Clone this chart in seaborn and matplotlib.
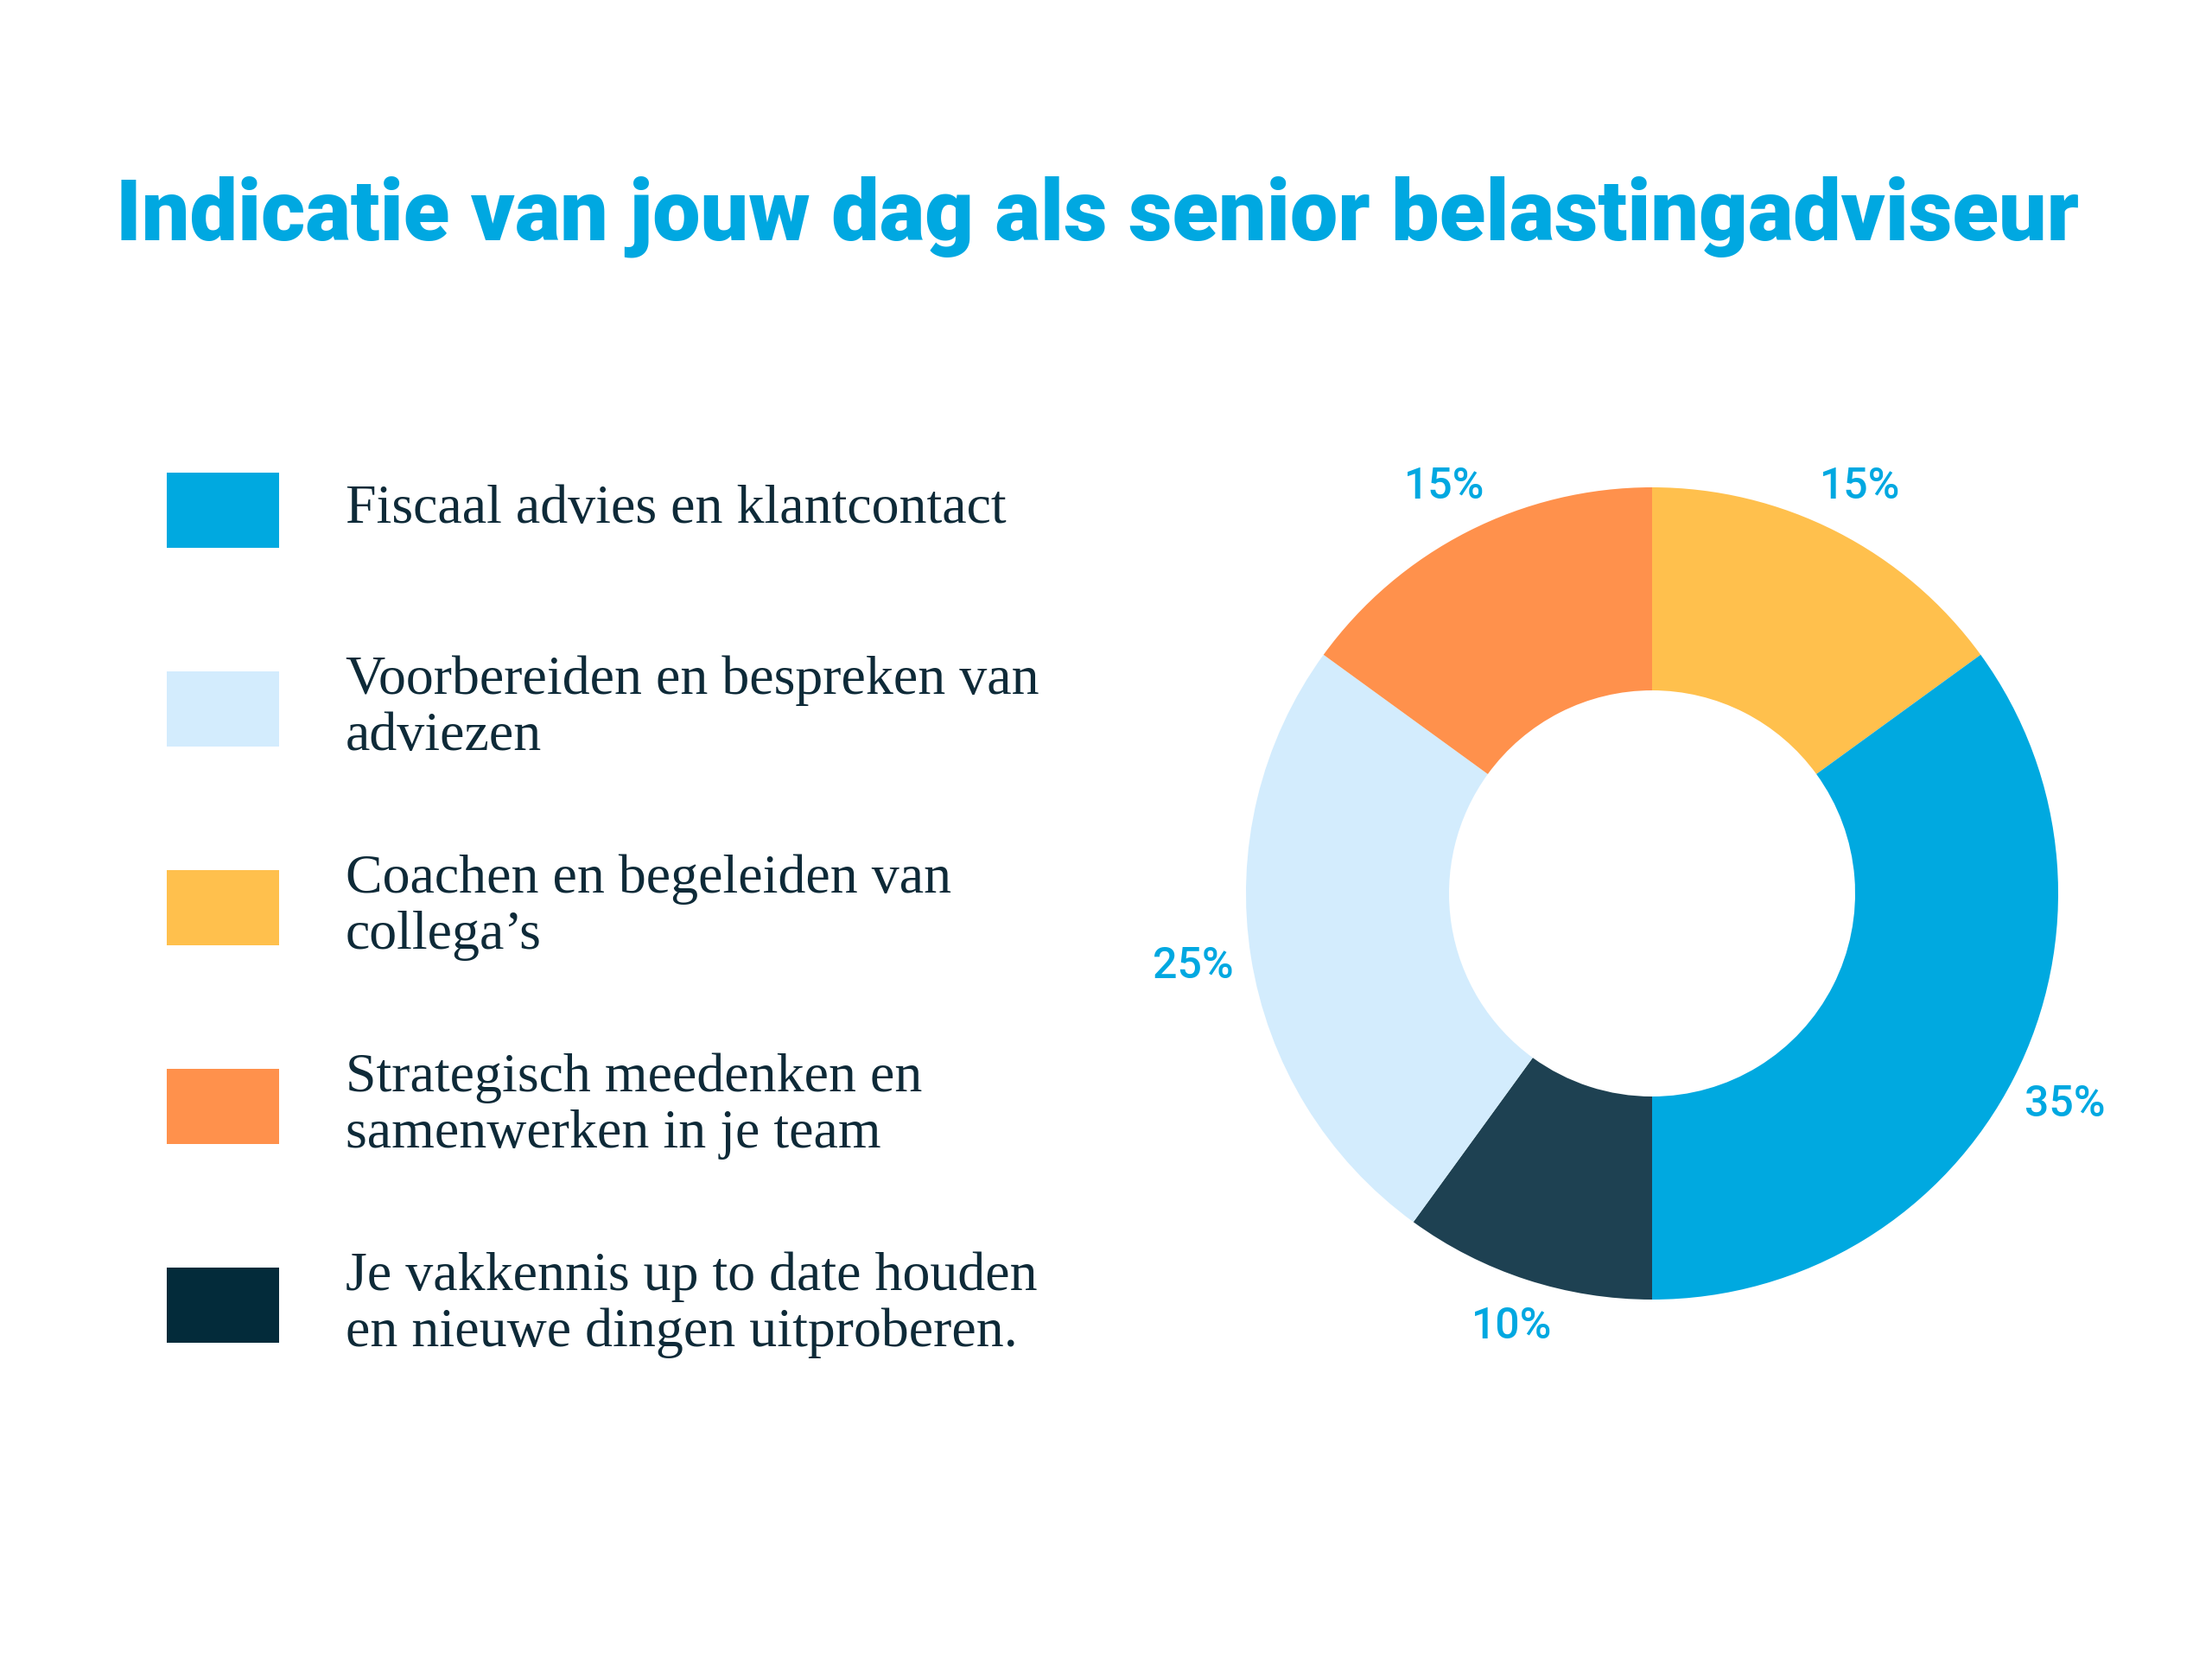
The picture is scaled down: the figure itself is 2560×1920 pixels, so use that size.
import numpy as np
import seaborn as sns
import matplotlib.pyplot as plt
from matplotlib.patches import Rectangle

# Categories as shown in the legend (top to bottom)
categories = [
    "Fiscaal advies en klantcontact",
    "Voorbereiden en bespreken van\nadviezen",
    "Coachen en begeleiden van\ncollega\u2019s",
    "Strategisch meedenken en\nsamenwerken in je team",
    "Je vakkennis up to date houden\nen nieuwe dingen uitproberen.",
]
shares = [35, 25, 15, 15, 10]
legend_colors = ["#00A9E0", "#D3ECFD", "#FFC04D", "#FF914C", "#032B3A"]
slice_colors = ["#00A9E0", "#D3ECFD", "#FFC04D", "#FF914C", "#1E4152"]
# order of the slices clockwise from 12 o'clock
pie_order = [2, 0, 4, 1, 3]

title = "Indicatie van jouw dag als senior belastingadviseur"

sns.set_theme(style="white")
plt.rcParams['font.family'] = ['Roboto', 'DejaVu Sans']

W, H = 2560, 1920
fig = plt.figure(figsize=(W / 100, H / 100), dpi=100)
fig.patch.set_facecolor("white")

# title
fig.text(0.496, 1 - 278 / H, title, ha="center", va="baseline",
         fontsize=71, fontweight="black", color="#00A8E1")

# legend drawn in a full-figure axes using pixel units
leg = fig.add_axes([0, 0, 1, 1])
leg.set_xlim(0, W)
leg.set_ylim(H, 0)
leg.axis("off")
row0, step = 590, 230
sw_w, sw_h = 130, 87
for i, (lab, col) in enumerate(zip(categories, legend_colors)):
    yc = row0 + i * step
    leg.add_patch(Rectangle((193, yc - sw_h / 2), sw_w, sw_h,
                            facecolor=col, edgecolor="none"))
    leg.text(400, yc, lab, ha="left", va="center", fontsize=46,
             family=["Liberation Serif", "DejaVu Serif"], color="#0E2A38",
             linespacing=1.15)

# donut
R = 470
L = 1.3
S = 2 * L * R
cx, cy = 1912, H - 1034
ax = fig.add_axes([(cx - S / 2) / W, (cy - S / 2) / H, S / W, S / H])
vals = [shares[k] for k in pie_order]
cols = [slice_colors[k] for k in pie_order]
wedges, _, autotexts = ax.pie(
    vals, colors=cols, startangle=90, counterclock=False,
    radius=1, autopct="%.0f%%", pctdistance=1.13,
    wedgeprops=dict(width=0.5, edgecolor="none"),
    textprops=dict(color="#00A8E1", fontsize=36, fontweight="medium"),
)
# keep a constant gap between label edge and ring
for w, t in zip(wedges, autotexts):
    ang = np.deg2rad((w.theta1 + w.theta2) / 2)
    r = 1.11 + 0.035 * abs(np.cos(ang))
    t.set_position((r * np.cos(ang), r * np.sin(ang)))
ax.set_xlim(-L, L)
ax.set_ylim(-L, L)
ax.set_aspect("equal")
ax.axis("off")

fig.savefig("out.png", dpi=100, facecolor="white")
